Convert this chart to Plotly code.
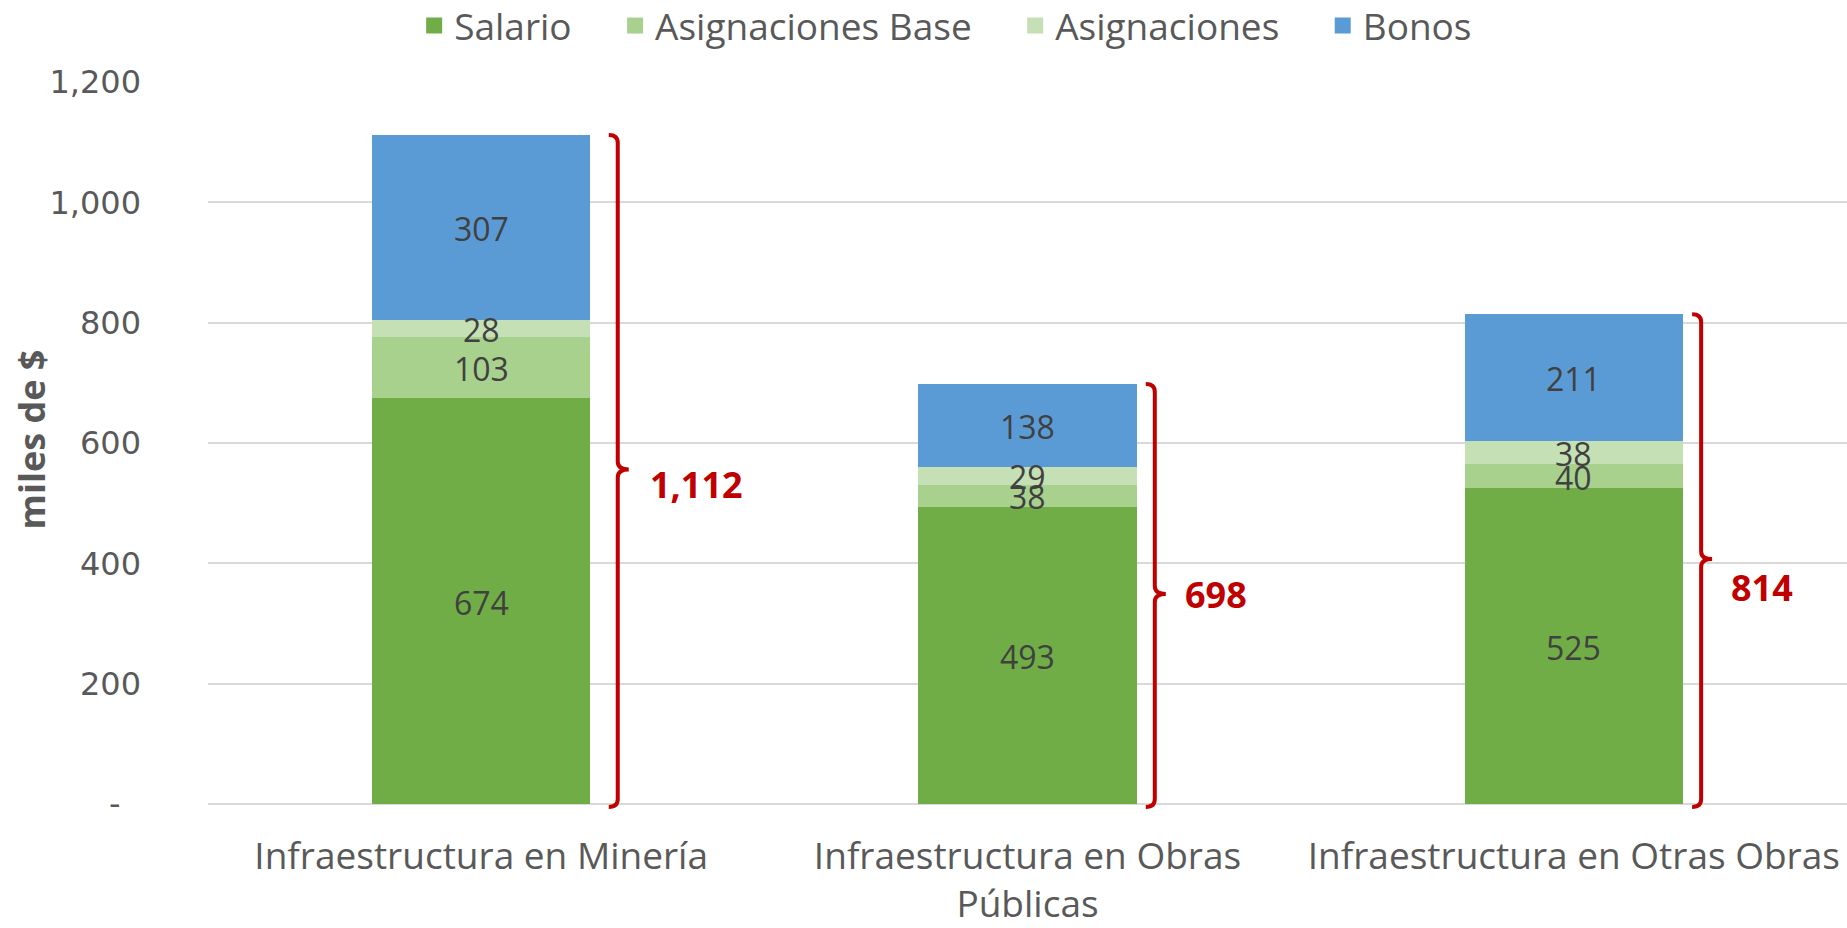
import plotly.graph_objects as go

# ---------------- data ----------------
categories = ["Infraestructura en Minería",
              "Infraestructura en Obras<br>Públicas",
              "Infraestructura en Otras Obras"]
series_names = ["Salario", "Asignaciones Base", "Asignaciones", "Bonos"]
salario = [674, 493, 525]
asignaciones_base = [103, 38, 40]
asignaciones = [28, 29, 38]
bonos = [307, 138, 211]
y_tick_vals = [0, 200, 400, 600, 800, 1000, 1200]
y_tick_text = ["-\u00a0\u00a0", "200", "400", "600", "800", "1,000", "1,200"]

# ---------------- style ----------------
colors = ["#70AD47", "#A9D18E", "#C5E0B4", "#5B9BD5"]
W, H = 1847, 928
ML, MR, MT, MB = 208, 0, 82, 121
PLOT_W, PLOT_H = W - ML - MR, H - MT - MB
X_RANGE = [-0.5, 2.5]
Y_RANGE = [0, 1200]
XPP = (X_RANGE[1] - X_RANGE[0]) / PLOT_W   # x units per pixel
BAR_W = 0.4
bracket_offset = [0.25, 0.233, 0.233]      # bracket position right of bar centre
label_xshift = [30, 28, 28]
label_yshift = [-15, 0, -28]
TEXT = "#595959"
FONT = "Open Sans"

series = [salario, asignaciones_base, asignaciones, bonos]
xs = list(range(len(categories)))
totals = [sum(v) for v in zip(*series)]

fig = go.Figure()

# stacked bars
for name, vals, c in zip(series_names, series, colors):
    fig.add_trace(go.Bar(x=xs, y=vals, name=name, width=BAR_W,
                         marker=dict(color=c, line=dict(width=0)),
                         showlegend=False, hoverinfo="skip"))

# legend entries (square markers)
for i, (name, c) in enumerate(zip(series_names, colors)):
    pad = "\u00a0" * 4 if i < len(series_names) - 1 else ""
    fig.add_trace(go.Scatter(x=[None], y=[None], mode="markers", name=name + pad,
                             marker=dict(symbol="square", size=16, color=c),
                             showlegend=True))

# data labels centred in each segment
for i in xs:
    base = 0
    for vals in series:
        v = vals[i]
        fig.add_annotation(x=i, y=base + v / 2, xref="x", yref="y",
                           text=f"{v:,}", showarrow=False, yshift=-1,
                           xanchor="center", yanchor="middle",
                           font=dict(family=FONT, size=32, color="#404040"))
        base += v

# red braces with totals
def ypaper(v):
    return (v - Y_RANGE[0]) / (Y_RANGE[1] - Y_RANGE[0])

hook_x = 9 * XPP
tick_x = 11 * XPP
curve_y = 8 / PLOT_H
for i, t in enumerate(totals):
    xc = i + bracket_offset[i]
    top, mid, bot = ypaper(t), ypaper(t / 2), ypaper(0) - 3 / PLOT_H
    path = (f"M {xc - hook_x},{top} Q {xc},{top} {xc},{top - curve_y} "
            f"L {xc},{mid + curve_y} Q {xc},{mid} {xc + tick_x},{mid} "
            f"Q {xc},{mid} {xc},{mid - curve_y} "
            f"L {xc},{bot + curve_y} Q {xc},{bot} {xc - hook_x},{bot}")
    fig.add_shape(type="path", path=path, xref="x", yref="paper",
                  line=dict(color="#C00000", width=4), layer="above")
    fig.add_annotation(x=xc, y=t / 2, xref="x", yref="y", xanchor="left",
                       yanchor="middle", xshift=label_xshift[i],
                       yshift=label_yshift[i],
                       text=f"<b>{t:,}</b>", showarrow=False,
                       font=dict(family=FONT, size=36, color="#C00000"))

# y-axis title
fig.add_annotation(x=(31 - ML) / PLOT_W, y=0.505, xref="paper", yref="paper",
                   text="<b>miles de $</b>", textangle=-90, showarrow=False,
                   xanchor="center", yanchor="middle",
                   font=dict(family=FONT, size=36, color=TEXT))

fig.update_layout(
    width=W, height=H,
    margin=dict(l=ML, r=MR, t=MT, b=MB, pad=0),
    barmode="stack", bargap=0.6,
    plot_bgcolor="white", paper_bgcolor="white",
    legend=dict(orientation="h", xref="container", yref="container",
                x=0.512, xanchor="center", y=1 - 26 / H, yanchor="middle",
                traceorder="normal",
                font=dict(family=FONT, size=37, color=TEXT),
                bgcolor="rgba(0,0,0,0)", itemclick=False),
    xaxis=dict(range=X_RANGE, tickvals=xs, ticktext=categories,
               showgrid=False, zeroline=False, showline=False, ticks="",
               ticklabelstandoff=27,
               tickfont=dict(family=FONT, size=37, color=TEXT)),
    yaxis=dict(range=Y_RANGE, tickvals=y_tick_vals, ticktext=y_tick_text,
               showgrid=True, gridcolor="#D9D9D9", gridwidth=1.5,
               zeroline=True, zerolinecolor="#D9D9D9", zerolinewidth=1.5,
               showline=False, ticks="", ticklabelstandoff=66,
               tickfont=dict(family="DejaVu Sans", size=32, color=TEXT)),
)

fig.write_html("out.html", config={"displayModeBar": False},
               post_script="document.body.style.margin='0';")
